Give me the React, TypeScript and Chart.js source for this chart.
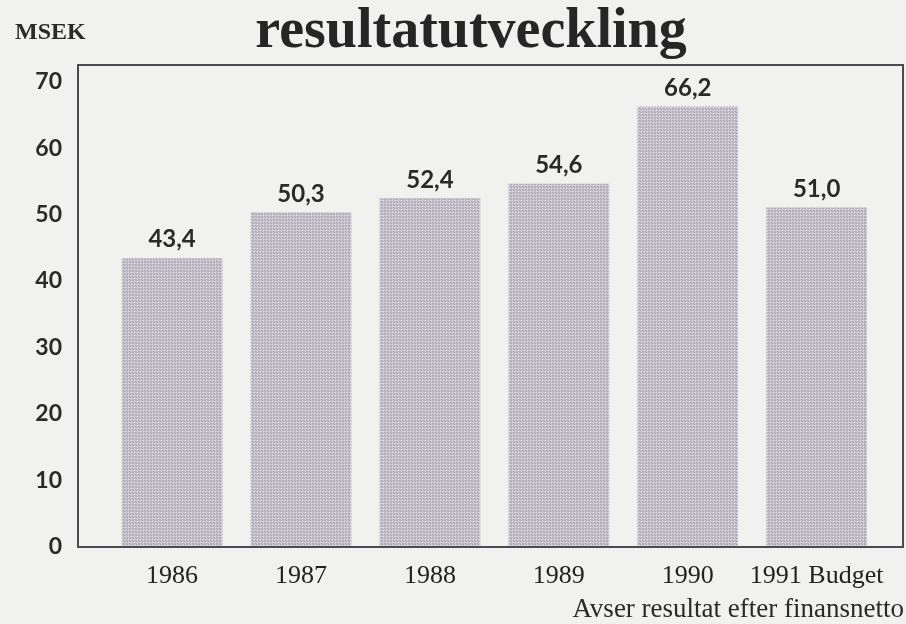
import React, { useEffect, useRef } from "react";
import { Chart, registerables } from "chart.js";

Chart.register(...registerables);

const categories = ["1986", "1987", "1988", "1989", "1990", "1991 Budget"];
const values = [43.4, 50.3, 52.4, 54.6, 66.2, 51.0];
const valueLabels = ["43,4", "50,3", "52,4", "54,6", "66,2", "51,0"];
const yTicks = [0, 10, 20, 30, 40, 50, 60, 70];
const titleText = "resultatutveckling";
const unitText = "MSEK";
const noteText = "Avser resultat efter finansnetto";

const W = 906;
const H = 624;

function makePattern(ctx: CanvasRenderingContext2D) {
  const c = document.createElement("canvas");
  c.width = 3;
  c.height = 3;
  const p = c.getContext("2d")!;
  p.fillStyle = "#c8c4cc";
  p.fillRect(0, 0, 3, 3);
  p.fillStyle = "#a29cb0";
  p.fillRect(0, 0, 1, 1);
  p.fillRect(1, 1, 1, 1);
  p.fillStyle = "#dfdde3";
  p.fillRect(2, 2, 1, 1);
  return ctx.createPattern(c, "repeat")!;
}

const decorPlugin = {
  id: "decor",
  beforeDraw(chart: any) {
    const { ctx } = chart;
    ctx.save();
    ctx.fillStyle = "#f1f1ef";
    ctx.fillRect(0, 0, chart.width, chart.height);
    ctx.restore();
  },
  afterDatasetsDraw(chart: any) {
    const { ctx, chartArea } = chart;
    ctx.save();
    ctx.strokeStyle = "#4a4a50";
    ctx.lineWidth = 2;
    ctx.strokeRect(chartArea.left, chartArea.top, chartArea.right - chartArea.left, chartArea.bottom - chartArea.top);
    const meta = chart.getDatasetMeta(0);
    ctx.fillStyle = "#2a2a2a";
    ctx.font = "bold 24px Lato, 'Open Sans', sans-serif";
    ctx.textAlign = "center";
    ctx.textBaseline = "alphabetic";
    meta.data.forEach((el: any, i: number) => {
      ctx.fillText(valueLabels[i], el.x, el.y - 11);
    });
    ctx.font = "bold 56px 'Liberation Serif', serif";
    ctx.fillStyle = "#262626";
    ctx.textAlign = "center";
    ctx.fillText(titleText, 471, 47);
    ctx.font = "bold 24px 'Liberation Serif', serif";
    ctx.textAlign = "left";
    ctx.fillStyle = "#2a2a2a";
    ctx.fillText(unitText, 15, 39);
    ctx.font = "27px 'Liberation Serif', serif";
    ctx.textAlign = "right";
    ctx.fillText(noteText, 904, 617);
    ctx.restore();
  },
};

export default function App() {
  const ref = useRef<HTMLCanvasElement>(null);
  useEffect(() => {
    const canvas = ref.current!;
    const ctx = canvas.getContext("2d")!;
    const pattern = makePattern(ctx);
    const chart = new Chart(ctx, {
      type: "bar",
      data: {
        datasets: [
          {
            data: values.map((v, i) => ({ x: i, y: v })),
            backgroundColor: pattern as any,
            borderWidth: 0,
            barThickness: 100,
          },
        ],
      },
      options: {
        responsive: false,
        animation: false,
        layout: { padding: { top: 65, right: 3, left: 0, bottom: 0 } },
        plugins: { legend: { display: false }, tooltip: { enabled: false } },
        scales: {
          x: {
            type: "linear",
            offset: false,
            min: -0.73,
            max: 5.67,
            grid: { display: false, drawTicks: false, offset: false },
            border: { display: false },
            afterBuildTicks: (axis: any) => {
              axis.ticks = categories.map((_, i) => ({ value: i }));
            },
            afterFit: (axis: any) => {
              axis.height = 77;
            },
            ticks: {
              autoSkip: false,
              maxRotation: 0,
              padding: 14,
              color: "#222222",
              font: { family: "'Liberation Serif', serif", size: 26 },
              callback: (v: any) => categories[Math.round(Number(v))] ?? "",
            },
          },
          y: {
            min: 0,
            max: 72.5,
            grid: { display: false, drawTicks: false },
            border: { display: false },
            afterBuildTicks: (axis: any) => {
              axis.ticks = yTicks.map((v) => ({ value: v }));
            },
            afterFit: (axis: any) => {
              axis.width = 78;
            },
            ticks: {
              padding: 16,
              color: "#2a2a2a",
              font: { family: "Lato, 'Open Sans', sans-serif", size: 23, weight: "bold" },
            },
          },
        },
      },
      plugins: [decorPlugin],
    });
    return () => chart.destroy();
  }, []);
  return (
    <div style={{ position: "absolute", left: 0, top: 0, width: W, height: H }}>
      <canvas ref={ref} width={W} height={H} style={{ display: "block" }} />
    </div>
  );
}
